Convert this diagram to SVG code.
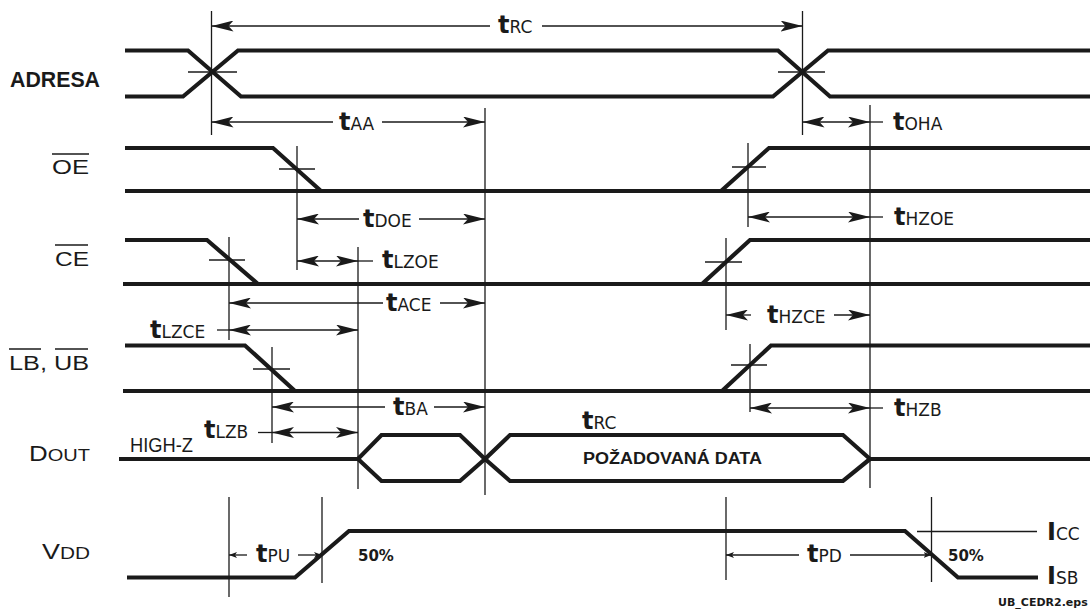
<svg xmlns="http://www.w3.org/2000/svg" width="1092" height="610" viewBox="0 0 1092 610">
<style>
.sig{fill:none;stroke:#1a1a1a;stroke-width:4.2;stroke-linejoin:miter}
.thin{fill:none;stroke:#1a1a1a;stroke-width:1.3}
.arr{fill:none;stroke:#1a1a1a;stroke-width:1.3;marker-end:url(#ah)}
.arr2{fill:none;stroke:#1a1a1a;stroke-width:1.3;marker-start:url(#ah);marker-end:url(#ah)}
.arrs{fill:none;stroke:#1a1a1a;stroke-width:1.3;marker-end:url(#as)}
.lbl{font-family:"Liberation Sans",Arial,sans-serif;font-size:20px;fill:#1a1a1a}
.tl{font-family:"DejaVu Sans","Liberation Sans",sans-serif;font-size:17px;fill:#1a1a1a}
.tt{font-weight:bold;font-size:24px}
.bold{font-family:"Liberation Sans",Arial,sans-serif;font-weight:bold;fill:#1a1a1a}
.pct{font-family:"DejaVu Sans","Liberation Sans",sans-serif;font-weight:bold;font-size:15px;fill:#1a1a1a}
.ov{stroke:#1a1a1a;stroke-width:1.5}
</style>
<defs>
<marker id="ah" viewBox="0 0 22 11" refX="22" refY="5.5" markerWidth="22" markerHeight="11" markerUnits="userSpaceOnUse" orient="auto-start-reverse"><path d="M0,0 L22,5.5 L0,11 L5,5.5 z" fill="#1a1a1a"/></marker>
<marker id="as" viewBox="0 0 8 6" refX="8" refY="3" markerWidth="8" markerHeight="6" markerUnits="userSpaceOnUse" orient="auto-start-reverse"><path d="M0,0 L8,3 L0,6 L2,3 z" fill="#1a1a1a"/></marker>
</defs>
<rect width="1092" height="610" fill="#ffffff"/>

<g id="signal-adresa">
<text class="bold" x="10" y="87" font-size="22" textLength="90" lengthAdjust="spacingAndGlyphs">ADRESA</text>
<path class="sig" d="M125,50.5 H188 L241,96.5 H773 L828,50.5 H1090"/>
<path class="sig" d="M125,96.5 H183 L238,50.5 H778 L830,96.5 H1090"/>
</g>

<g id="signal-oe">
<text class="lbl" x="52" y="174" textLength="37" lengthAdjust="spacingAndGlyphs">OE</text>
<line class="ov" x1="52" y1="154" x2="89" y2="154"/>
<path class="sig" d="M125,148 H273 L321,191"/>
<path class="sig" d="M125,191 H1090"/>
<path class="sig" d="M721,191 L769,148 H1090"/>
</g>

<g id="signal-ce">
<text class="lbl" x="55" y="266" textLength="34" lengthAdjust="spacingAndGlyphs">CE</text>
<line class="ov" x1="55" y1="245" x2="88" y2="245"/>
<path class="sig" d="M125,240 H207 L258,284"/>
<path class="sig" d="M123,284 H1090"/>
<path class="sig" d="M702,284 L750,240 H1090"/>
</g>

<g id="signal-lbub">
<text class="lbl" x="9" y="370" textLength="80" lengthAdjust="spacingAndGlyphs">LB, UB</text>
<line class="ov" x1="9" y1="349" x2="41" y2="349"/>
<line class="ov" x1="55" y1="349" x2="88" y2="349"/>
<path class="sig" d="M125,345.5 H245 L295,391"/>
<path class="sig" d="M123,391 H1090"/>
<path class="sig" d="M722,391 L771,345.5 H1090"/>
</g>

<g id="signal-dout">
<text class="lbl" x="29" y="461" textLength="61" lengthAdjust="spacingAndGlyphs"><tspan font-size="22">D</tspan><tspan font-size="17">OUT</tspan></text>
<text class="lbl" x="130" y="452" font-size="15" textLength="63" lengthAdjust="spacingAndGlyphs">HIGH-Z</text>
<path class="sig" d="M119,459 H358 L381.5,435 H460 L485,459 L510,435 H843 L870,459 H1090"/>
<path class="sig" d="M358,459 L381.5,481 H460 L485,459 L510,481 H843 L870,459"/>
<text class="bold" x="583" y="464" font-size="16" textLength="179" lengthAdjust="spacingAndGlyphs">POŽADOVANÁ DATA</text>
</g>

<g id="signal-vdd">
<text class="lbl" x="42" y="559" textLength="48" lengthAdjust="spacingAndGlyphs"><tspan font-size="22">V</tspan><tspan font-size="17">DD</tspan></text>
<path class="sig" d="M127,577.5 H295 L349,531 H905 L958,577.5 H1038"/>
<line class="thin" x1="917" y1="531.5" x2="1037" y2="531.5"/>
<text class="tl" x="1047" y="540" font-size="18"><tspan class="tt" font-size="23">I</tspan>CC</text>
<text class="tl" x="1047" y="584" font-size="18"><tspan class="tt" font-size="23">I</tspan>SB</text>
<text class="pct" x="358" y="561">50%</text>
<text class="pct" x="948" y="561">50%</text>
</g>

<g id="guides">
<line class="thin" x1="211.5" y1="11" x2="211.5" y2="135"/>
<line class="thin" x1="802.5" y1="11" x2="802.5" y2="135"/>
<line class="thin" x1="485" y1="108" x2="485" y2="495"/>
<line class="thin" x1="870" y1="105" x2="870" y2="488"/>
<line class="thin" x1="297" y1="146" x2="297" y2="270"/>
<line class="thin" x1="748" y1="143" x2="748" y2="227"/>
<line class="thin" x1="229" y1="237" x2="229" y2="340"/>
<line class="thin" x1="358" y1="247" x2="358" y2="489"/>
<line class="thin" x1="726" y1="238" x2="726" y2="330"/>
<line class="thin" x1="272" y1="347" x2="272" y2="443"/>
<line class="thin" x1="750" y1="344" x2="750" y2="412"/>
<line class="thin" x1="229" y1="497" x2="229" y2="597"/>
<line class="thin" x1="322" y1="497" x2="322" y2="583"/>
<line class="thin" x1="726" y1="497" x2="726" y2="580"/>
<line class="thin" x1="931.5" y1="497" x2="931.5" y2="582"/>
<line class="thin" x1="188" y1="72" x2="237" y2="72"/>
<line class="thin" x1="778" y1="72" x2="825" y2="72"/>
<line class="thin" x1="279" y1="169" x2="315" y2="169"/>
<line class="thin" x1="732" y1="167" x2="766" y2="167"/>
<line class="thin" x1="209" y1="260" x2="245" y2="260"/>
<line class="thin" x1="705" y1="262" x2="742" y2="262"/>
<line class="thin" x1="253" y1="369" x2="290" y2="369"/>
<line class="thin" x1="731" y1="365" x2="767" y2="365"/>
</g>

<g id="connectors">
<path class="arr" d="M490,26 H211.5"/>
<path class="arr" d="M542,26 H802.5"/>
<path class="arr" d="M333,122 H211.5"/>
<path class="arr" d="M382,122 H485"/>
<path class="arr2" d="M802.5,122 H870"/>
<line class="thin" x1="870" y1="122" x2="883" y2="122"/>
<path class="arr" d="M359,219 H297"/>
<path class="arr" d="M419,219 H485"/>
<path class="arr2" d="M748,217 H870"/>
<line class="thin" x1="870" y1="217" x2="883" y2="217"/>
<path class="arr2" d="M297,261 H358"/>
<line class="thin" x1="358" y1="261" x2="373" y2="261"/>
<path class="arr" d="M383,303 H229"/>
<path class="arr" d="M440,303 H485"/>
<path class="arr" d="M751,315 H726"/>
<path class="arr" d="M834,315 H870"/>
<line class="thin" x1="217" y1="330" x2="229" y2="330"/>
<path class="arr2" d="M229,330 H358"/>
<path class="arr" d="M385,407 H272"/>
<path class="arr" d="M434,407 H485"/>
<path class="arr2" d="M750,408 H870"/>
<line class="thin" x1="870" y1="408" x2="883" y2="408"/>
<line class="thin" x1="258" y1="432.5" x2="272" y2="432.5"/>
<path class="arr2" d="M272,432.5 H358"/>
<path class="arrs" d="M247,555 H229"/>
<path class="arrs" d="M298,555 H322"/>
<path class="arrs" d="M799,555 H726"/>
<path class="arrs" d="M850,555 H931.5"/>
</g>

<g id="timing-labels">
<text class="tl" x="498" y="33"><tspan class="tt">t</tspan>RC</text>
<text class="tl" x="339" y="130"><tspan class="tt">t</tspan>AA</text>
<text class="tl" x="893" y="130"><tspan class="tt">t</tspan>OHA</text>
<text class="tl" x="363" y="227"><tspan class="tt">t</tspan>DOE</text>
<text class="tl" x="894" y="225"><tspan class="tt">t</tspan>HZOE</text>
<text class="tl" x="382" y="268"><tspan class="tt">t</tspan>LZOE</text>
<text class="tl" x="386" y="311"><tspan class="tt">t</tspan>ACE</text>
<text class="tl" x="767" y="323"><tspan class="tt">t</tspan>HZCE</text>
<text class="tl" x="150" y="338"><tspan class="tt">t</tspan>LZCE</text>
<text class="tl" x="393" y="415"><tspan class="tt">t</tspan>BA</text>
<text class="tl" x="894" y="416"><tspan class="tt">t</tspan>HZB</text>
<text class="tl" x="204" y="438"><tspan class="tt">t</tspan>LZB</text>
<text class="tl" x="582" y="429"><tspan class="tt">t</tspan>RC</text>
<text class="tl" x="256" y="562"><tspan class="tt">t</tspan>PU</text>
<text class="tl" x="807" y="562"><tspan class="tt">t</tspan>PD</text>
</g>

<text x="998" y="606" font-family="DejaVu Sans, Liberation Sans, sans-serif" font-weight="bold" font-size="11" fill="#1a1a1a">UB_CEDR2.eps</text>
</svg>
